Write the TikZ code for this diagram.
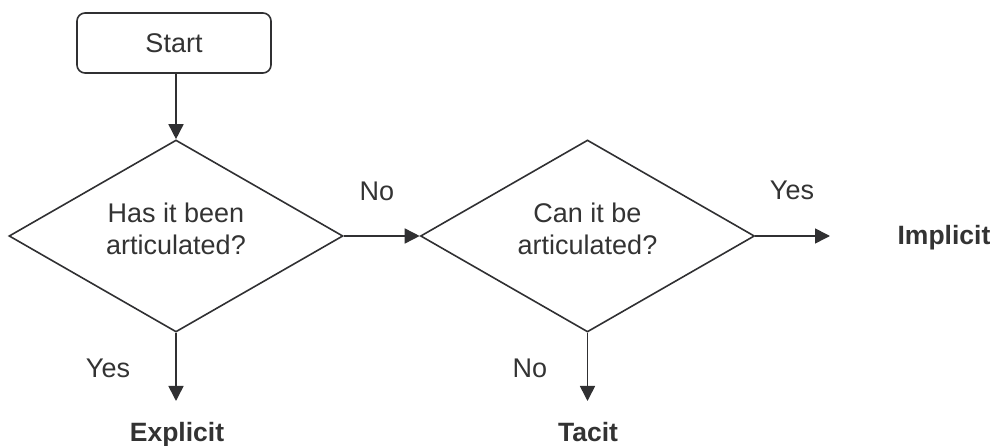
\documentclass[tikz,border=0pt]{standalone}
\usepackage{fontspec}
\setmainfont{Liberation Sans}
\usetikzlibrary{shapes.geometric,arrows.meta}
\definecolor{ink}{RGB}{48,48,50}
\definecolor{txt}{RGB}{51,51,51}
\tikzset{
  every node/.style={font=\fontsize{27}{32}\selectfont, text=txt},
  startbox/.style={draw=ink, line width=1.6pt, rounded corners=8pt, minimum width=194pt, minimum height=60pt, inner sep=0pt},
  decision/.style={draw=ink, line width=1.6pt, diamond, minimum width=334pt, minimum height=192pt, inner sep=0pt},
  qtext/.style={align=center, inner sep=0pt},
  result/.style={font=\fontsize{26.5}{30}\selectfont\bfseries, inner sep=0pt, anchor=base},
  lbl/.style={inner sep=0pt, anchor=base},
  flow/.style={draw=ink, line width=1.6pt, -{Triangle[length=15pt,width=15pt]}}
}
\begin{document}
\begin{tikzpicture}[x=1pt,y=-1pt]
\useasboundingbox (0,0) rectangle (994,446);
\node[startbox] (start) at (174,43) {Start};
\node[decision] (d1) at (176,236) {};
\node[decision] (d2) at (587.5,236) {};
\node[qtext] (d1t) at (176,229) {Has it been\\articulated?};
\node[qtext] (d2t) at (587.5,229) {Can it be\\articulated?};
\coordinate (c1) at (176,401);
\coordinate (c2) at (587.5,401);
\coordinate (c3) at (830,236);
\node[result] (explicit) at (177,442) {Explicit};
\node[result] (tacit) at (588,442) {Tacit};
\node[result] (implicit) at (944,245) {Implicit};
\node[lbl] (no1) at (377,201) {No};
\node[lbl] (yes1) at (792,200) {Yes};
\node[lbl] (yes2) at (108,378) {Yes};
\node[lbl] (no2) at (530,378) {No};
\draw[flow] (start.south -| d1.north) -- (d1.north);
\draw[flow] (d1.east) -- (d2.west);
\draw[flow] (d2.east) -- (c3);
\draw[flow] (d1.south) -- (c1);
\draw[flow] (d2.south) -- (c2);
\end{tikzpicture}
\end{document}
